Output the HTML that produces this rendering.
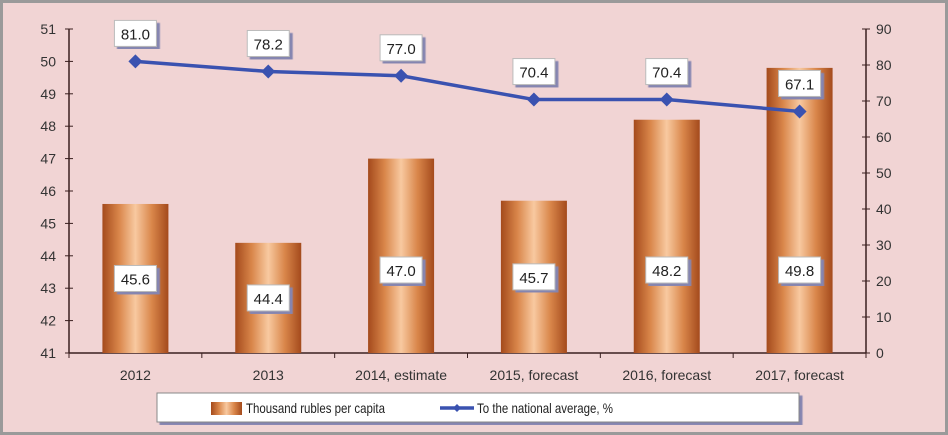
<!DOCTYPE html>
<html><head><meta charset="utf-8"><style>
body{margin:0;background:#fff}
svg{display:block;font-family:"Liberation Sans",sans-serif}
</style></head><body>
<svg width="948" height="435" viewBox="0 0 948 435">
<defs>
<linearGradient id="bg" x1="0" x2="1" y1="0" y2="0">
<stop offset="0" stop-color="#a44a1c"/><stop offset="0.25" stop-color="#d9864a"/>
<stop offset="0.5" stop-color="#f8c9a0"/><stop offset="0.75" stop-color="#d9864a"/>
<stop offset="1" stop-color="#a44a1c"/></linearGradient>
<filter id="sh"><feDropShadow dx="3" dy="3" stdDeviation="0.5" flood-color="#8585b0"/></filter>
</defs>
<rect x="0" y="0" width="948" height="435" fill="#9a9a9a"/>
<rect x="3" y="3" width="942" height="429" fill="#f1d4d4"/>
<g id="g"></g>
</svg>
<script>
const categories=["2012","2013","2014, estimate","2015, forecast","2016, forecast","2017, forecast"];
const barValues=[45.6,44.4,47.0,45.7,48.2,49.8];
const lineValues=[81.0,78.2,77.0,70.4,70.4,67.1];
const leftTicks=[41,42,43,44,45,46,47,48,49,50,51];
const rightTicks=[0,10,20,30,40,50,60,70,80,90];
const NS="http://www.w3.org/2000/svg";
const g=document.getElementById('g');
const X0=69,X1=866,Y0=353,Y1=29;
const bw=(X1-X0)/categories.length;
const xc=i=>X0+bw*(i+0.5);
const yl=v=>Y0-(v-41)/(51-41)*(Y0-Y1);
const yr=v=>Y0-v/90*(Y0-Y1);
function mk(t,a,txt){const e=document.createElementNS(NS,t);for(const k in a)e.setAttribute(k,a[k]);if(txt!==undefined)e.textContent=txt;g.appendChild(e);return e;}
let e=mk('line',{x1:X0,y1:Y1,x2:X0,y2:Y0,stroke:'#3a2020','stroke-width':1.5});


e=mk('line',{x1:X1,y1:Y1,x2:X1,y2:Y0,stroke:'#3a2020','stroke-width':1.5});


e=mk('line',{x1:X0,y1:Y0,x2:X1,y2:Y0,stroke:'#3a2020','stroke-width':1.5});


leftTicks.forEach(v=>{const y=yl(v);
mk('line',{x1:X0-4,y1:y,x2:X0+4,y2:y,stroke:'#3a2020'});
e=mk('text',{x:X0-13,y:y+5,'text-anchor':'end','font-size':14,fill:'#333'},v);

});
rightTicks.forEach(v=>{const y=yr(v);
mk('line',{x1:X1-4,y1:y,x2:X1+4,y2:y,stroke:'#3a2020'});
e=mk('text',{x:X1+10,y:y+5,'text-anchor':'start','font-size':14,fill:'#333'},v);

});
for(let i=0;i<=categories.length;i++){const x=X0+bw*i;mk('line',{x1:x,y1:Y0,x2:x,y2:Y0+5,stroke:'#3a2020'});}
categories.forEach((c,i)=>{
e=mk('text',{x:xc(i),y:Y0+27,'text-anchor':'middle','font-size':14,fill:'#333'},c);

});
barValues.forEach((v,i)=>{const top=yl(v);
e=mk('rect',{x:xc(i)-33,y:top,width:66,height:Y0-top,fill:'url(#bg)'});


const cy=Math.max((top+Y0)/2,270);
mk('rect',{x:xc(i)-21,y:cy-13,width:42,height:26,fill:'#fff',stroke:'#bbb',filter:'url(#sh)'});
e=mk('text',{x:xc(i),y:cy+6,'text-anchor':'middle','font-size':15,fill:'#222'},v.toFixed(1));

});
e=mk('polyline',{points:lineValues.map((v,i)=>xc(i)+','+yr(v)).join(' '),fill:'none',stroke:'#3a52b0','stroke-width':3.5});


lineValues.forEach((v,i)=>{const x=xc(i),y=yr(v);
e=mk('path',{d:`M${x} ${y-7}L${x+7} ${y}L${x} ${y+7}L${x-7} ${y}Z`,fill:'#3a52b0'});


const ly=y-28;
mk('rect',{x:x-21,y:ly-13,width:42,height:26,fill:'#fff',stroke:'#bbb',filter:'url(#sh)'});
e=mk('text',{x:x,y:ly+6,'text-anchor':'middle','font-size':15,fill:'#222'},v.toFixed(1));

});
e=mk('rect',{x:157,y:393,width:642,height:29,fill:'#fff',stroke:'#888',filter:'url(#sh)'});


mk('rect',{x:211,y:402,width:31,height:13,fill:'url(#bg)'});
e=mk('text',{x:246,y:413,'font-size':14,fill:'#222',textLength:139,lengthAdjust:'spacingAndGlyphs'},'Thousand rubles per capita');


mk('line',{x1:440,y1:408,x2:474,y2:408,stroke:'#3a52b0','stroke-width':3.5});
mk('path',{d:'M457 404L461 408L457 412L453 408Z',fill:'#3a52b0'});
e=mk('text',{x:477,y:413,'font-size':14,fill:'#222',textLength:136,lengthAdjust:'spacingAndGlyphs'},'To the national average, %');


</script>
</body></html>
